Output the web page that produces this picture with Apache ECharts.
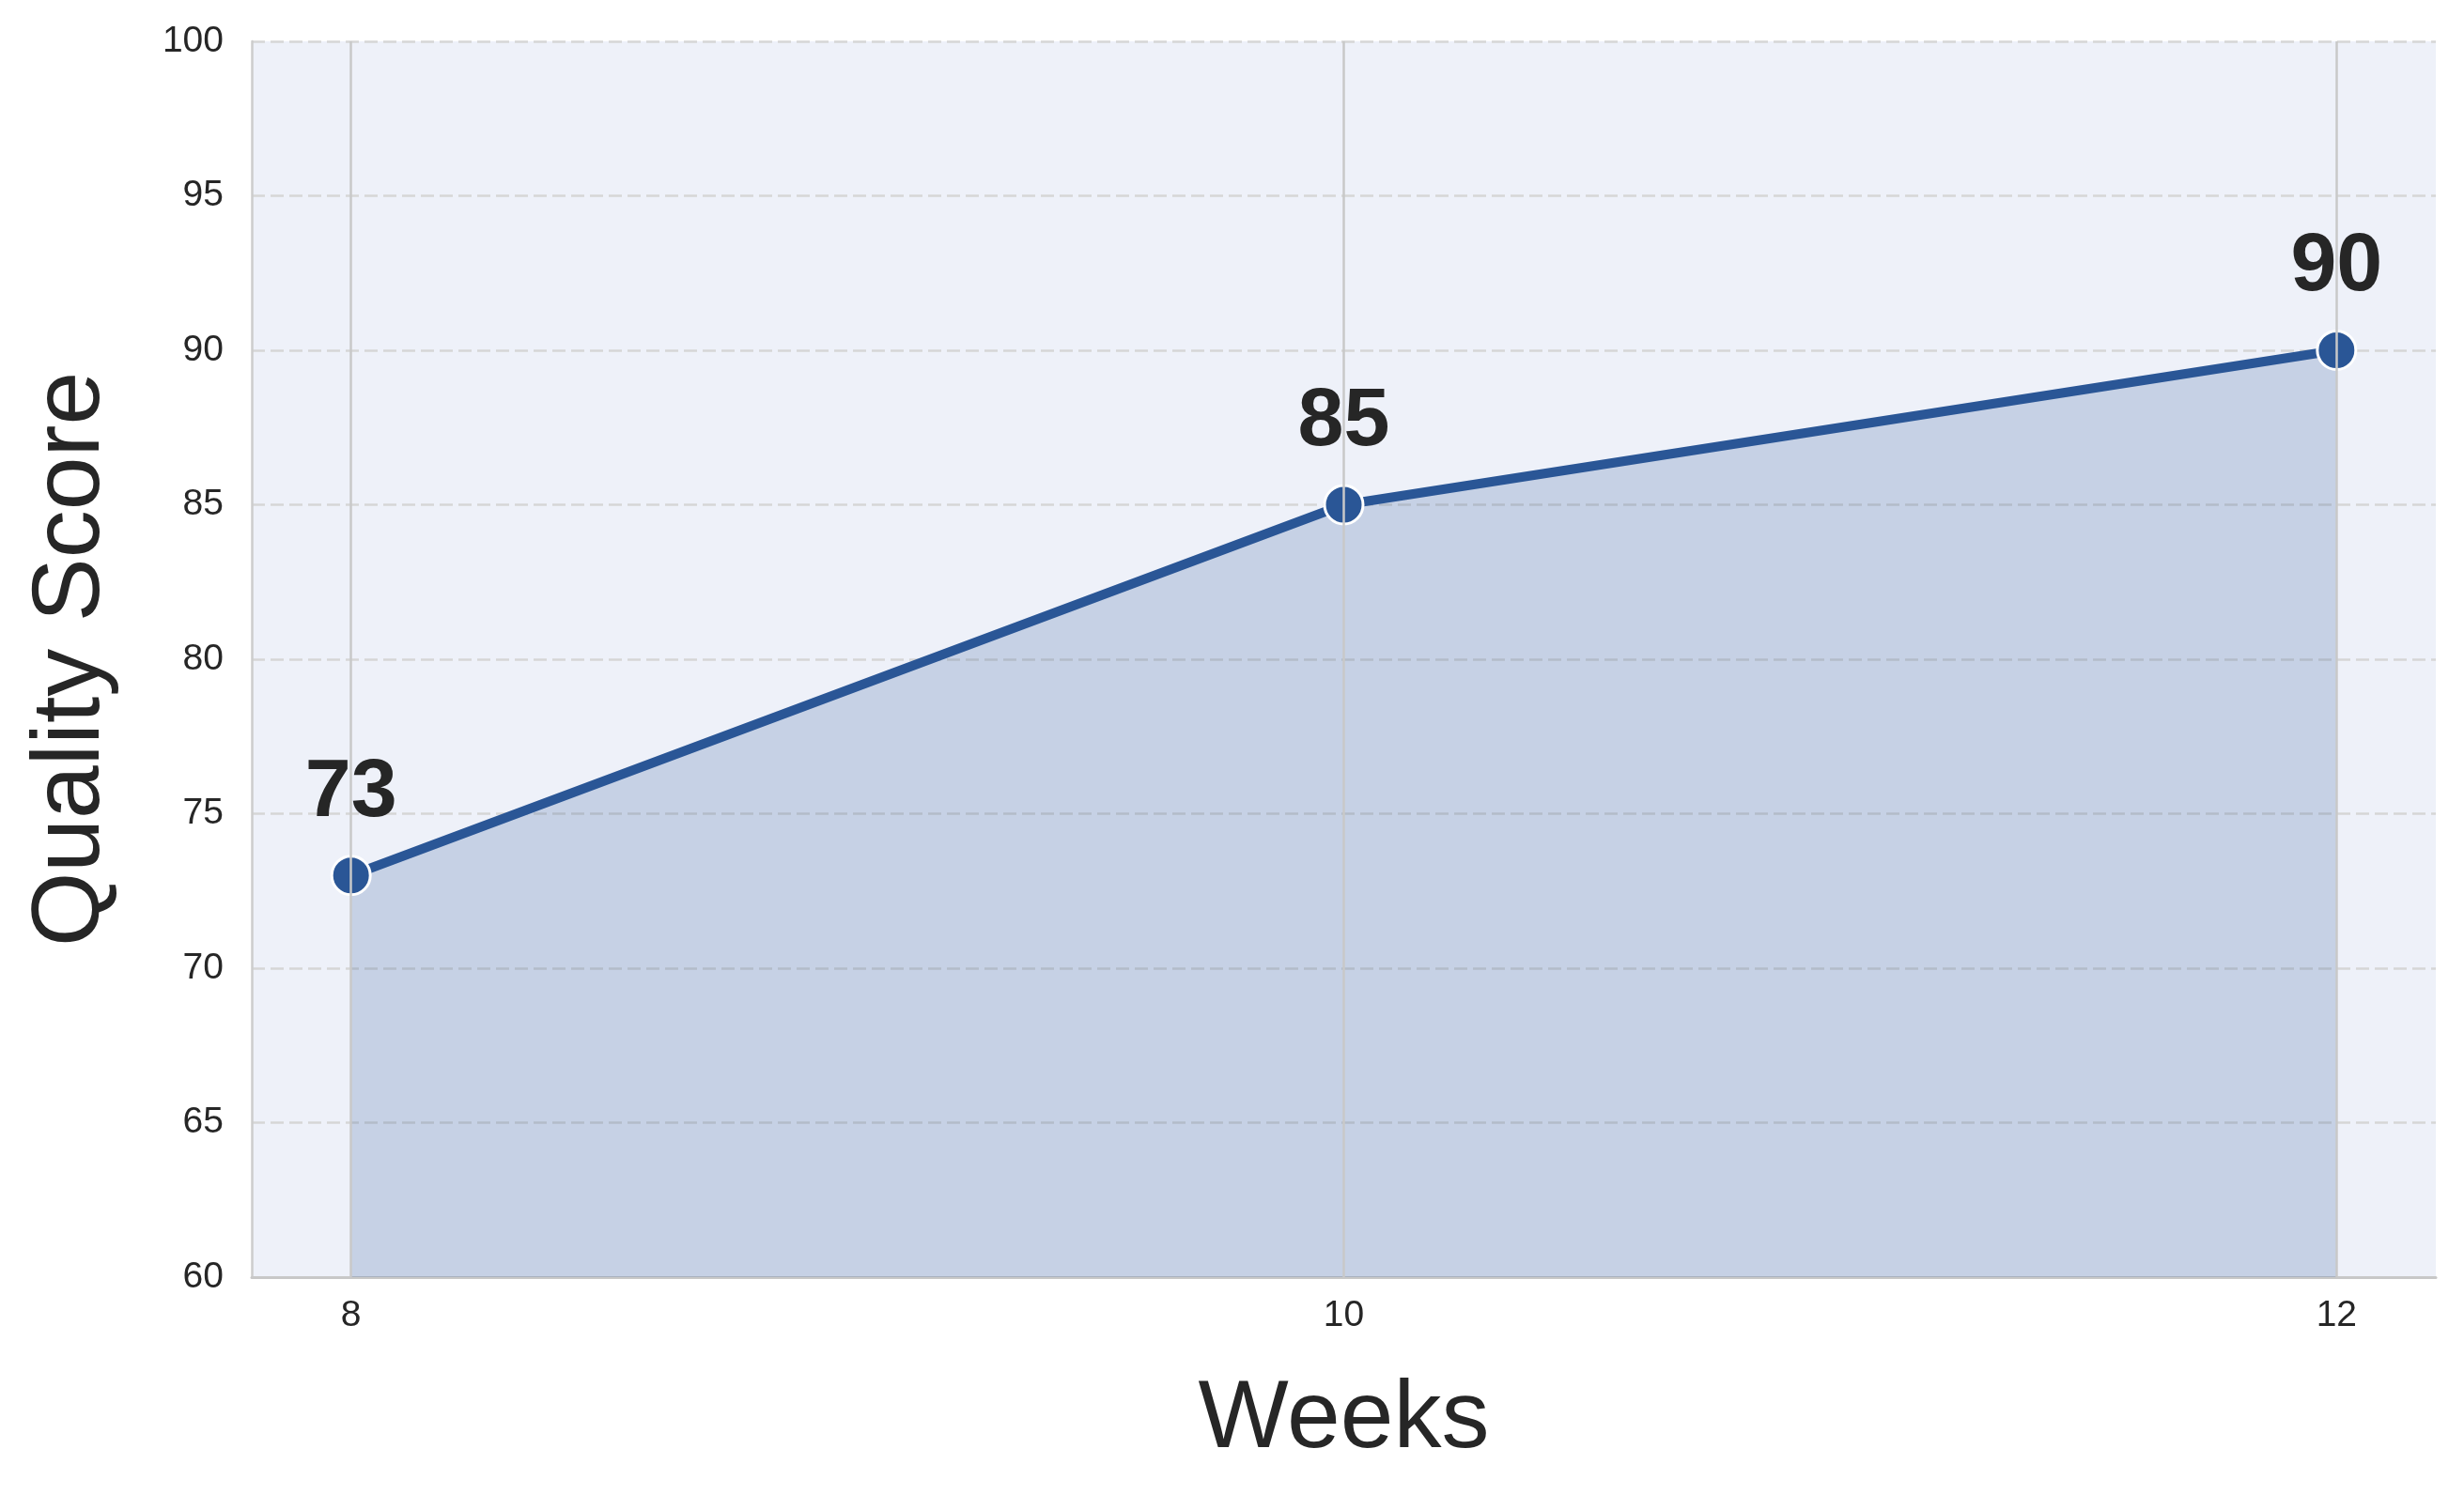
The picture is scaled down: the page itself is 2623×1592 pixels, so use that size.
<!DOCTYPE html>
<html>
<head>
<meta charset="utf-8">
<title>Quality Score</title>
<script src="https://cdn.jsdelivr.net/npm/echarts@6/dist/echarts.min.js"></script>
<style>
    html, body { margin: 0; padding: 0; background: #ffffff; }
    #chart { width: 2623px; height: 1592px; }
</style>
</head>
<body>
<div id="chart"></div>
<script>
// data
const weeks = [8, 10, 12];
const scores = [73, 85, 90];
const weekTicks = [8, 10, 12];

const lineColor = '#2a5696';
const textColor = '#262626';
const font = '"Liberation Sans", Arial, "DejaVu Sans", sans-serif';

const chartDom = document.getElementById('chart');
const myChart = echarts.init(chartDom, null, { renderer: 'canvas' });

const option = {
    backgroundColor: '#ffffff',
    textStyle: { fontFamily: font },
    grid: {
        left: 268,
        right: 30,
        top: 44,
        bottom: 232,
        show: true,
        backgroundColor: '#eef1f9',
        borderWidth: 0
    },
    xAxis: {
        type: 'value',
        min: 7.8,
        max: 12.2,
        name: 'Weeks',
        nameLocation: 'middle',
        nameGap: 102,
        nameTextStyle: { fontSize: 102, color: textColor, fontFamily: font },
        axisLine: { show: true, lineStyle: { color: '#c8c8c8', width: 3 } },
        axisTick: { show: false, customValues: weekTicks },
        axisLabel: {
            customValues: weekTicks,
            fontSize: 39,
            color: textColor,
            margin: 22,
            fontFamily: font
        },
        splitLine: { show: false }
    },
    yAxis: {
        type: 'value',
        min: 60,
        max: 100,
        interval: 5,
        name: 'Quality Score',
        nameLocation: 'middle',
        nameGap: 140,
        nameTextStyle: { fontSize: 102, color: textColor, fontFamily: font },
        axisLine: { show: true, lineStyle: { color: '#cccccc', width: 2.5 } },
        axisTick: { show: false },
        axisLabel: { fontSize: 39, color: textColor, margin: 30, fontFamily: font },
        splitLine: {
            show: true,
            lineStyle: { color: '#d6d6d6', width: 2.5, type: [14, 6] }
        }
    },
    series: [
        {
            // vertical grid lines at the week ticks, kept under the fill
            type: 'line',
            data: [],
            z: 1,
            silent: true,
            markLine: {
                silent: true,
                symbol: 'none',
                label: { show: false },
                lineStyle: { color: '#c8c8c8', width: 2.5, type: 'solid' },
                data: weekTicks.map(w => ({ xAxis: w }))
            }
        },
        {
            name: 'Quality Score',
            type: 'line',
            z: 3,
            data: weeks.map((w, i) => [w, scores[i]]),
            symbol: 'circle',
            symbolSize: 41,
            lineStyle: { color: lineColor, width: 10 },
            itemStyle: { color: lineColor, borderColor: '#ffffff', borderWidth: 3 },
            areaStyle: { color: lineColor, opacity: 0.2, origin: 'start' },
            label: {
                show: true,
                position: 'top',
                distance: 22,
                fontSize: 88,
                fontWeight: 'bold',
                color: textColor,
                fontFamily: font
            },
            emphasis: { disabled: true },
            animation: false
        }
    ],
    animation: false
};

myChart.setOption(option);

window.addEventListener('resize', () => {
    myChart.resize();
});
</script>
</body>
</html>
